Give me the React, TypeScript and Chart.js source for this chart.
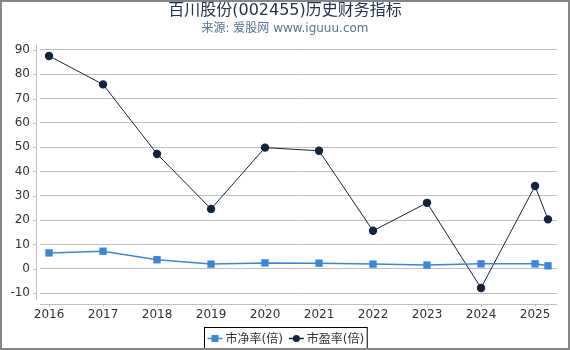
import React, { useEffect, useRef } from "react";
import { Chart, registerables } from "chart.js";

Chart.register(...registerables);

const TITLE = "百川股份(002455)历史财务指标";
const SUBTITLE = "来源: 爱股网 www.iguuu.com";
const YEAR_TICKS = [2016, 2017, 2018, 2019, 2020, 2021, 2022, 2023, 2024, 2025];
const Y_TICKS = [-10, 0, 10, 20, 30, 40, 50, 60, 70, 80, 90];
const X_POS = [2016, 2017, 2018, 2019, 2020, 2021, 2022, 2023, 2024, 2025, 2025.24];
const PB = [6.5, 7.2, 3.7, 1.9, 2.4, 2.3, 1.9, 1.5, 2.0, 2.0, 1.2];
const PE = [87.5, 75.8, 47.2, 24.6, 49.8, 48.5, 15.6, 27.1, -7.9, 34.0, 20.3];
const PB_LABEL = "市净率(倍)";
const PE_LABEL = "市盈率(倍)";

const FONT = "'DejaVu Sans', 'Noto Sans CJK SC', sans-serif";
const PB_COLOR = "#3a86dc";
const PE_COLOR = "#14243d";

export default function App() {
  const ref = useRef<HTMLCanvasElement>(null);
  useEffect(() => {
    document.body.style.margin = "0";
    const canvas = ref.current!;
    const decor = {
      id: "decor",
      afterDraw(chart: any) {
        const ctx = chart.ctx as CanvasRenderingContext2D;
        const a = chart.chartArea;
        const xs = chart.scales.x;
        ctx.save();
        // axis lines
        ctx.strokeStyle = "#c0c0c0";
        ctx.lineWidth = 1;
        ctx.beginPath();
        ctx.moveTo(a.left - 3.5, a.top);
        ctx.lineTo(a.left - 3.5, a.bottom - 4);
        for (const t of Y_TICKS) {
          const y = Math.round(chart.scales.y.getPixelForValue(t)) + 0.5;
          ctx.moveTo(a.left - 7, y);
          ctx.lineTo(a.left - 3.5, y);
        }
        ctx.moveTo(a.left, a.bottom + 0.5);
        ctx.lineTo(a.right, a.bottom + 0.5);
        for (const t of YEAR_TICKS) {
          const x = Math.round(xs.getPixelForValue(t)) + 0.5;
          ctx.moveTo(x, a.bottom);
          ctx.lineTo(x, a.bottom + 3);
        }
        ctx.stroke();
        // titles
        ctx.textAlign = "center";
        ctx.textBaseline = "middle";
        ctx.fillStyle = "#23344d";
        ctx.font = `16px ${FONT}`;
        ctx.fillText(TITLE, 285, 11);
        ctx.fillStyle = "#5a7493";
        ctx.font = `12px ${FONT}`;
        ctx.fillText(SUBTITLE, 285, 29);
        // legend
        ctx.font = `12px ${FONT}`;
        const items = [
          { label: PB_LABEL, color: PB_COLOR, style: "rect" },
          { label: PE_LABEL, color: PE_COLOR, style: "circle" },
        ];
        const lineW = 15, gap = 3, itemGap = 6, padX = 3;
        let total = 0;
        const widths = items.map((it) => ctx.measureText(it.label).width);
        widths.forEach((w) => (total += lineW + gap + w));
        total += itemGap + padX * 2;
        const bx = Math.round(285 - total / 2) + 0.5;
        const by = 327.5;
        ctx.fillStyle = "#ffffff";
        ctx.fillRect(bx, by, total, 22);
        ctx.strokeStyle = "#000000";
        ctx.lineWidth = 1;
        ctx.strokeRect(bx, by, total, 22);
        let x = bx + padX;
        const cy = by + 11;
        items.forEach((it, i) => {
          ctx.strokeStyle = it.color;
          ctx.lineWidth = 1.5;
          ctx.beginPath();
          ctx.moveTo(x, cy);
          ctx.lineTo(x + lineW, cy);
          ctx.stroke();
          ctx.fillStyle = it.color;
          if (it.style === "rect") ctx.fillRect(x + lineW / 2 - 3.5, cy - 3.5, 7, 7);
          else {
            ctx.beginPath();
            ctx.arc(x + lineW / 2, cy, 3.5, 0, Math.PI * 2);
            ctx.fill();
          }
          ctx.fillStyle = "#333333";
          ctx.textAlign = "left";
          ctx.fillText(it.label, x + lineW + gap, cy + 1);
          x += lineW + gap + widths[i] + itemGap;
        });
        // frame
        ctx.strokeStyle = "#858585";
        ctx.lineWidth = 2;
        ctx.strokeRect(1, 1, 568, 348);
        ctx.restore();
      },
    };
    const chart = new Chart(canvas, {
      type: "line",
      data: {
        datasets: [
          {
            label: PB_LABEL,
            data: X_POS.map((x, i) => ({ x, y: PB[i] })),
            borderColor: PB_COLOR,
            backgroundColor: PB_COLOR,
            borderWidth: 1.5,
            pointStyle: "rect",
            pointRadius: 5.2,
            pointBorderWidth: 0,
            tension: 0,
          },
          {
            label: PE_LABEL,
            data: X_POS.map((x, i) => ({ x, y: PE[i] })),
            borderColor: PE_COLOR,
            backgroundColor: PE_COLOR,
            borderWidth: 1,
            pointStyle: "circle",
            pointRadius: 4.2,
            pointBorderWidth: 0,
            tension: 0,
          },
        ],
      },
      options: {
        animation: false,
        responsive: false,
        layout: { padding: { top: 45, left: 0, right: 13, bottom: 0 } },
        plugins: { legend: { display: false }, tooltip: { enabled: false } },
        scales: {
          x: {
            type: "linear",
            min: 2015.833,
            max: 2025.407,
            afterBuildTicks: (s: any) => {
              s.ticks = YEAR_TICKS.map((v) => ({ value: v }));
            },
            afterFit: (s: any) => {
              s.height = 46;
            },
            grid: { display: false, drawTicks: false },
            border: { display: false },
            ticks: {
              padding: 4,
              color: "#333333",
              font: { family: FONT, size: 12 },
              callback: (v: any) => String(v),
              maxRotation: 0,
              autoSkip: false,
            },
          },
          y: {
            min: -14.5,
            max: 92,
            afterBuildTicks: (s: any) => {
              s.ticks = Y_TICKS.map((v) => ({ value: v }));
            },
            afterFit: (s: any) => {
              s.width = 40;
            },
            grid: { color: "#c0c0c0", drawTicks: false, lineWidth: 1 },
            border: { display: false },
            ticks: {
              padding: 10,
              color: "#333333",
              font: { family: FONT, size: 12 },
              callback: (v: any) => String(v),
            },
          },
        },
      },
      plugins: [decor],
    });
    return () => chart.destroy();
  }, []);
  return <canvas ref={ref} width={570} height={350} style={{ display: "block" }} />;
}
